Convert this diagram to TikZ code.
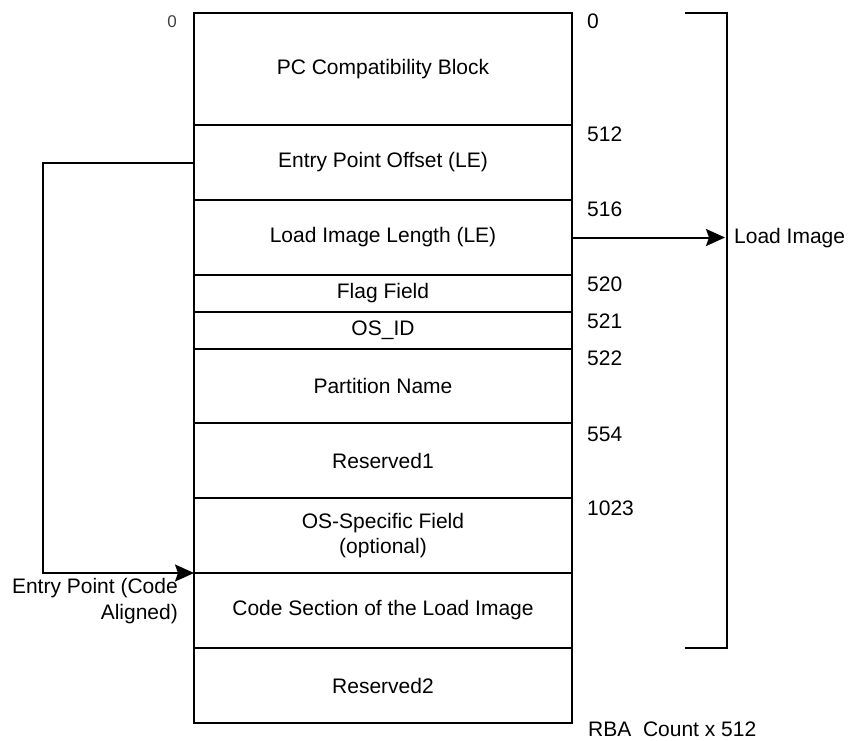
\documentclass[tikz,border=0pt]{standalone}
\usepackage{fontspec}
\setmainfont{Liberation Sans}
\usetikzlibrary{arrows.meta}
\tikzset{
  row/.style={draw, line width=2pt, minimum width=378pt, inner sep=0pt, outer sep=0pt, font=\fontsize{21}{25}\selectfont, align=center},
  lbl/.style={anchor=west, inner sep=0pt, font=\fontsize{21}{25}\selectfont},
  conn/.style={line width=2pt},
  arr/.style={line width=2pt, -{Stealth[length=19pt, width=17pt, inset=3pt]}},
}
\begin{document}
\begin{tikzpicture}[x=1pt,y=-1pt]
\useasboundingbox (0,0) rectangle (849,740);
\node[row, minimum height=112pt] (r1) at (383,69) {PC Compatibility Block};
\node[row, minimum height=75pt] (r2) at (383,162.5) {Entry Point Offset (LE)};
\node[row, minimum height=75pt] (r3) at (383,237.5) {Load Image Length (LE)};
\node[row, minimum height=37pt] (r4) at (383,293.5) {Flag Field};
\node[row, minimum height=37pt] (r5) at (383,330.5) {OS\_ID};
\node[row, minimum height=74pt] (r6) at (383,386) {Partition Name};
\node[row, minimum height=75pt] (r7) at (383,460.5) {Reserved1};
\node[row, minimum height=75pt] (r8) at (383,535.5) {\fontsize{21}{25}\selectfont OS-Specific Field\\(optional)};
\node[row, minimum height=75pt] (r9) at (383,610.5) {Code Section of the Load Image};
\node[row, minimum height=75pt] (r10) at (383,685.5) {Reserved2};

\node[inner sep=0pt, font=\fontsize{17}{19}\selectfont, text=black!75] (z0) at (172,22) {0};
\node[lbl] (n0) at (587,21) {0};
\node[lbl] (n512) at (587,134) {512};
\node[lbl] (n516) at (587,209) {516};
\node[lbl] (n520) at (587,284) {520};
\node[lbl] (n521) at (587,321) {521};
\node[lbl] (n522) at (587,358) {522};
\node[lbl] (n554) at (587,434) {554};
\node[lbl] (n1023) at (587,508) {1023};
\node[lbl] (rba) at (588,729) {RBA\ \ Count x 512};
\node[lbl] (li) at (734,238) {Load Image};
\node[inner sep=0pt, anchor=north east, align=right, font=\fontsize{21}{26}\selectfont] (ep) at (178,578) {Entry Point (Code\\Aligned)};

\coordinate (bt1) at (685,13);
\coordinate (bt2) at (727,13);
\coordinate (bb1) at (727,648);
\coordinate (bb2) at (685,648);
\draw[conn] (bt1) -- (bt2) -- (bb1) -- (bb2);

\coordinate (tgt) at (725,237.5);
\draw[arr] (r3.east) -- (tgt);

\coordinate (ea) at (43,162.5);
\draw[arr] (r2.west) -- (ea) |- (r9.north west);
\end{tikzpicture}
\end{document}
